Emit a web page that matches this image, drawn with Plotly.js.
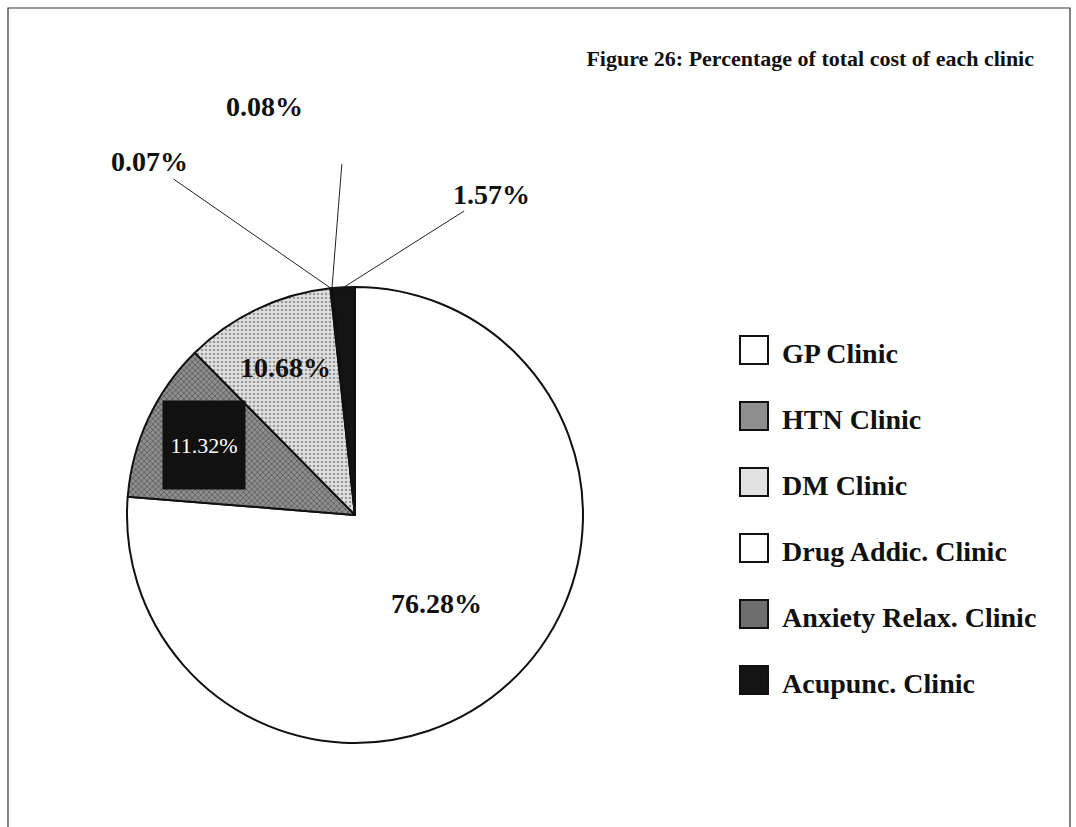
<!DOCTYPE html>
<html>
<head>
<meta charset="utf-8">
<script src="https://cdn.plot.ly/plotly-3.0.1.min.js"></script>
<style>
  html, body { margin: 0; padding: 0; background: #fff; }
  #chart { width: 1076px; height: 827px; }
</style>
</head>
<body>
<div id="chart"></div>
<script>
const clinics = ["GP Clinic", "HTN Clinic", "DM Clinic", "Drug Addic. Clinic", "Anxiety Relax. Clinic", "Acupunc. Clinic"]
const shares = [76.28, 11.32, 10.68, 0.07, 0.08, 1.57]

const W = 1076
const H = 827
const serif = "Liberation Serif, 'Times New Roman', serif"

// pie geometry, in pixels
const cx = 355
const cy = 515
const R = 228

// slice look
const fillColors = ['#ffffff', '#8e8e8e', '#e2e2e2', '#ffffff', '#6e6e6e', '#141414']
const patternShapes = ['', 'x', '.', '', 'x', '']
const patternFg = ['#ffffff', '#555555', '#9a9a9a', '#ffffff', '#3a3a3a', '#141414']

const total = shares.reduce((a, b) => a + b, 0)
let cum = 0
const midAngles = shares.map(v => {
    const a = (cum + v / 2) / total * 360
    cum += v
    return a
})
const pctText = shares.map(v => v.toFixed(2) + '%')

// point at a fraction of the radius along a slice's mid angle (clockwise from 12 o'clock)
function onPie(angle, frac) {
    const t = angle * Math.PI / 180
    return {
        px: cx + R * frac * Math.sin(t),
        py: cy - R * frac * Math.cos(t)
    }
}
function paperX(px) { return px / W }
function paperY(py) { return 1 - py / H }

const trace = {
    type: 'pie',
    labels: clinics,
    values: shares,
    sort: false,
    direction: 'clockwise',
    rotation: 0,
    textinfo: 'none',
    hoverinfo: 'label+percent',
    showlegend: false,
    marker: {
        colors: fillColors,
        line: { color: '#111', width: 2 },
        pattern: {
            shape: patternShapes,
            fgcolor: patternFg,
            bgcolor: fillColors,
            size: 4,
            solidity: 0.35
        }
    },
    domain: {
        x: [paperX(cx - R), paperX(cx + R)],
        y: [paperY(cy + R), paperY(cy - R)]
    }
}

const annotations = []
const boldFont = { family: serif, size: 28, color: '#111', weight: 'bold' }

function textAt(px, py, text, font, extra) {
    return Object.assign({
        xref: 'paper', yref: 'paper',
        x: paperX(px), y: paperY(py),
        xanchor: 'center', yanchor: 'middle',
        text: text, showarrow: false, font: font
    }, extra || {})
}

// labels inside the big slices
const insideFrac = { 0: 0.53, 2: 0.715 }
Object.keys(insideFrac).forEach(k => {
    const i = Number(k)
    const p = onPie(midAngles[i], insideFrac[i])
    annotations.push(textAt(p.px, p.py, pctText[i], boldFont))
})

// HTN label sits in a black box
const pH = onPie(midAngles[1], 0.73)
annotations.push(textAt(pH.px, pH.py, pctText[1],
    { family: serif, size: 22, color: '#fff' },
    { bgcolor: '#111', width: 80, height: 86 }))

// small slices: leader lines from the rim
const lineStyle = { showarrow: true, arrowhead: 0, arrowwidth: 1, arrowcolor: '#222' }

const pDrug = onPie(midAngles[3], 1)
annotations.push(textAt(pDrug.px, pDrug.py, pctText[3], boldFont,
    Object.assign({ ax: 149 - pDrug.px, ay: 162 - pDrug.py }, lineStyle)))

const pAnx = onPie(midAngles[4], 1)
annotations.push(textAt(264, 107, pctText[4], boldFont))
annotations.push(textAt(pAnx.px, pAnx.py, '\u00a0', { size: 1 },
    Object.assign({ ax: 342 - pAnx.px, ay: 162 - pAnx.py }, lineStyle)))

const pAcu = onPie(midAngles[5], 1)
annotations.push(textAt(pAcu.px, pAcu.py, pctText[5], boldFont,
    Object.assign({ ax: 491 - pAcu.px, ay: 194 - pAcu.py }, lineStyle)))

// legend, drawn by hand so the rows can be spaced like the original
const shapes = []
const legendTop = 350
const legendStep = 66
clinics.forEach((name, i) => {
    const y = legendTop + i * legendStep
    shapes.push({
        type: 'rect', xref: 'paper', yref: 'paper',
        x0: paperX(740), x1: paperX(768),
        y0: paperY(y + 14), y1: paperY(y - 14),
        fillcolor: fillColors[i],
        line: { color: '#111', width: 2 }
    })
    annotations.push(textAt(780, y + 3, name, boldFont, { xanchor: 'left' }))
})

// page frame of the scan
shapes.push({
    type: 'rect', xref: 'paper', yref: 'paper',
    x0: paperX(8), x1: paperX(1070),
    y0: -0.05, y1: paperY(8),
    line: { color: '#333', width: 1.2 }
})

const layout = {
    width: W,
    height: H,
    margin: { l: 0, r: 0, t: 0, b: 0 },
    paper_bgcolor: '#fff',
    font: { family: serif, color: '#111' },
    title: {
        text: 'Figure 26: Percentage of total cost of each clinic',
        xref: 'paper', yref: 'container',
        x: paperX(1034), xanchor: 'right',
        y: 1 - 58 / H, yanchor: 'middle',
        font: { family: serif, size: 22, color: '#111', weight: 'bold' }
    },
    showlegend: false,
    annotations: annotations,
    shapes: shapes
}

Plotly.newPlot('chart', [trace], layout, { displayModeBar: false })
</script>
</body>
</html>
